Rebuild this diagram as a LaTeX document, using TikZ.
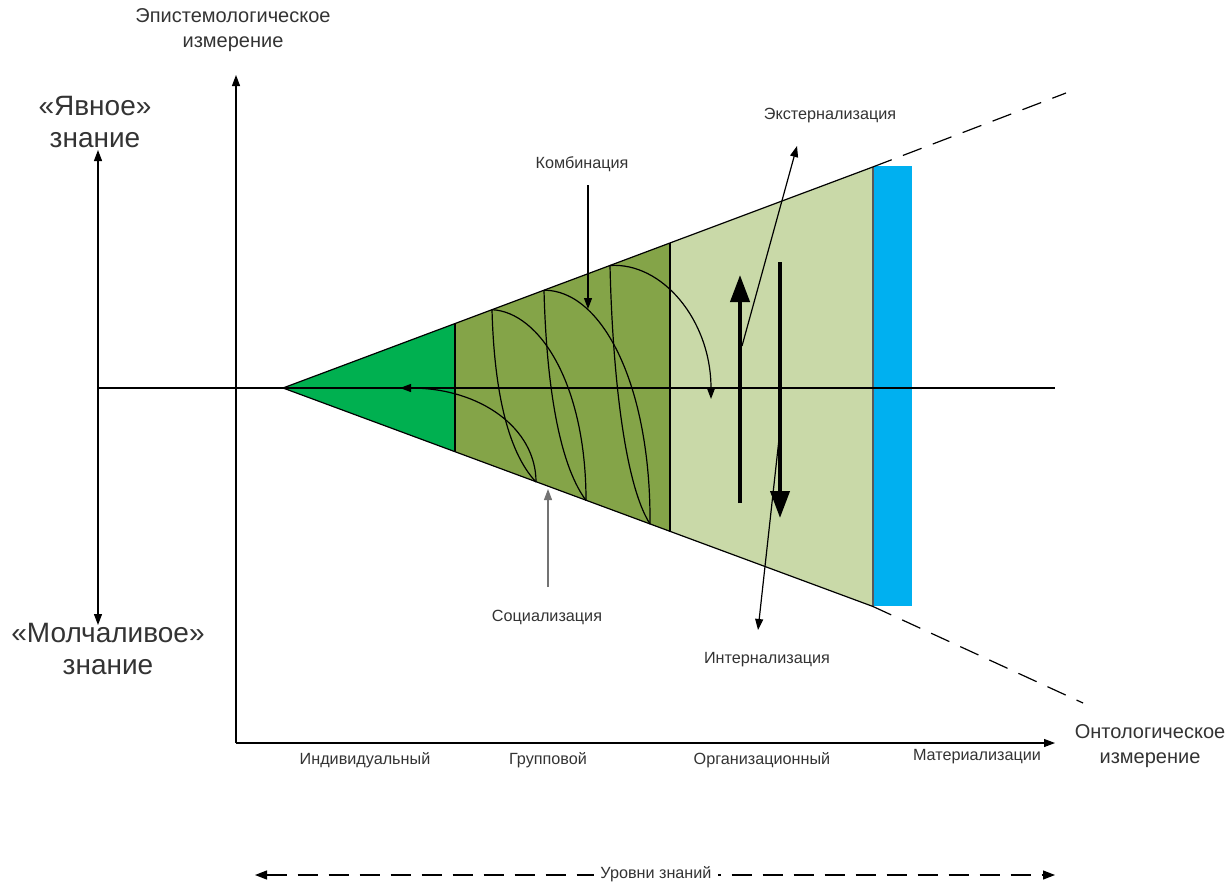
\documentclass[tikz,border=0pt]{standalone}
\usepackage{fontspec}
\setmainfont{Liberation Sans}
\usetikzlibrary{arrows.meta}
\definecolor{dkgreen}{HTML}{00B050}
\definecolor{olivefill}{HTML}{84A448}
\definecolor{lightol}{HTML}{C9D9A8}
\definecolor{skyblue}{HTML}{00B0F0}
\definecolor{txt}{HTML}{333333}
\begin{document}
\begin{tikzpicture}[x=1pt,y=-1pt,
  thinline/.style={line width=1.2pt, draw=black},
  arr/.style={line width=1.2pt, -{Triangle[length=11pt,width=8pt]}},
  dblarr/.style={line width=1.2pt, {Triangle[length=11pt,width=8pt]}-{Triangle[length=11pt,width=8pt]}},
  heavyarr/.style={line width=4pt, -{Triangle[length=27pt,width=19pt]}},
  lbl/.style={font=\fontsize{16.2}{19}\selectfont, text=txt, inner sep=0pt},
  midtxt/.style={font=\fontsize{20}{25}\selectfont, text=txt, align=center, inner sep=0pt},
  bigtxt/.style={font=\fontsize{28}{32}\selectfont, text=txt, align=center, inner sep=0pt},
  extline/.style={line width=1.2pt, dash pattern=on 20pt off 12pt},
  spiral/.style={line width=1.2pt, draw=black}
]
\useasboundingbox (0,0) rectangle (1230,883);

% key points
\coordinate (A) at (283,388);
\coordinate (U1) at (455,323.6);
\coordinate (L1) at (455,451.8);
\coordinate (U2) at (670,243);
\coordinate (L2) at (670,531.6);
\coordinate (U3) at (873,166.9);
\coordinate (L3) at (873,606.5);
\coordinate (UE) at (1066,93);
\coordinate (LE) at (1083,703);

% fills
\fill[dkgreen] (A) -- (U1) -- (L1) -- cycle;
\fill[olivefill] (U1) -- (U2) -- (L2) -- (L1) -- cycle;
\fill[lightol] (U2) -- (U3) -- (L3) -- (L2) -- cycle;
\fill[skyblue] (873,166) rectangle (911.5,605.5);

% section borders
\draw[thinline] (U1) -- (L1);
\draw[thinline] (U2) -- (L2);
\draw[line width=1.2pt, draw=black!65] (U3) -- (L3);
\draw[thinline] (A) -- (U3);
\draw[thinline] (A) -- (L3);
\draw[extline] (U3) -- (UE);
\draw[extline] (L3) -- (LE);

% horizontal axis line
\coordinate (HL) at (97,388);
\coordinate (HR) at (1055,388);
\draw[thinline] (HL) -- (HR);

% spiral
\coordinate (T1) at (492,309.7);
\coordinate (T2) at (544,290.2);
\coordinate (T3) at (610,265.5);
\coordinate (B1) at (536,482);
\coordinate (B2) at (586,500.4);
\coordinate (B3) at (650,524);
\coordinate (SocTip) at (400,388);
\coordinate (KomTip) at (711,399);
\draw[spiral] (T1) .. controls (494,385) and (506,450) .. (B1);
\draw[spiral] (T2) .. controls (546,370) and (556,460) .. (B2);
\draw[spiral] (T3) .. controls (612,355) and (622,480) .. (B3);
\draw[spiral] (T1) .. controls (540,312) and (586,385) .. (B2);
\draw[spiral] (T2) .. controls (602,290) and (651,385) .. (B3);
\draw[spiral, -{Triangle[length=11pt,width=8pt]}] (T3) .. controls (662,262) and (711,320) .. (KomTip);
\draw[spiral, -{Triangle[length=11pt,width=8pt]}] (B1) .. controls (536,428) and (480,388) .. (SocTip);

% heavy arrows
\coordinate (UpS) at (740,503);
\coordinate (UpT) at (740,275);
\coordinate (DnS) at (780,262);
\coordinate (DnT) at (780,518);
\draw[heavyarr] (UpS) -- (UpT);
\draw[heavyarr] (DnS) -- (DnT);

% axes
\coordinate (O) at (236,743);
\coordinate (Ytip) at (236,75);
\coordinate (Xtip) at (1055,743);
\draw[arr] (O) -- (Ytip);
\draw[arr] (O) -- (Xtip);
\coordinate (LVt) at (98,150);
\coordinate (LVb) at (98,625);
\draw[dblarr] (LVb) -- (LVt);

% labels
\node[midtxt] (epi) at (233,30) {Эпистемологическое\\измерение};
\node[midtxt] (onto) at (1150,746) {Онтологическое\\измерение};
\node[bigtxt] (yav) at (95,122) {«Явное»\\знание};
\node[bigtxt] (mol) at (108,649) {«Молчаливое»\\знание};

\node[lbl] (ind) at (365,760) {Индивидуальный};
\node[lbl] (grp) at (548,760) {Групповой};
\node[lbl] (org) at (762,760) {Организационный};
\node[lbl] (mat) at (977,757) {Материализации};

\node[lbl] (komb) at (582,164) {Комбинация};
\node[lbl] (ext) at (830,116) {Экстернализация};
\node[lbl] (soc) at (547,617) {Социализация};
\node[lbl] (int) at (767,660) {Интернализация};

% label arrows
\coordinate (KombS) at (588,185);
\coordinate (KombT) at (588,309);
\draw[arr] (KombS) -- (KombT);
\coordinate (SocS) at (548,587);
\coordinate (SocT) at (548,489);
\draw[arr, draw=black!55] (SocS) -- (SocT);
\coordinate (ExtS) at (742,346);
\coordinate (ExtT) at (797,146);
\draw[arr] (ExtS) -- (ExtT);
\coordinate (IntS) at (779,439);
\coordinate (IntT) at (758,630);
\draw[arr] (IntS) -- (IntT);

% levels
\coordinate (LevL) at (255,875);
\coordinate (LevR) at (1055,875);
\draw[line width=1.2pt, dash pattern=on 20pt off 11pt, {Triangle[length=12pt,width=9pt]}-{Triangle[length=12pt,width=9pt]}] (LevL) -- (LevR);
\node[lbl, fill=white, inner xsep=6pt, inner ysep=2pt] (lev) at (656,874) {Уровни знаний};
\end{tikzpicture}
\end{document}
